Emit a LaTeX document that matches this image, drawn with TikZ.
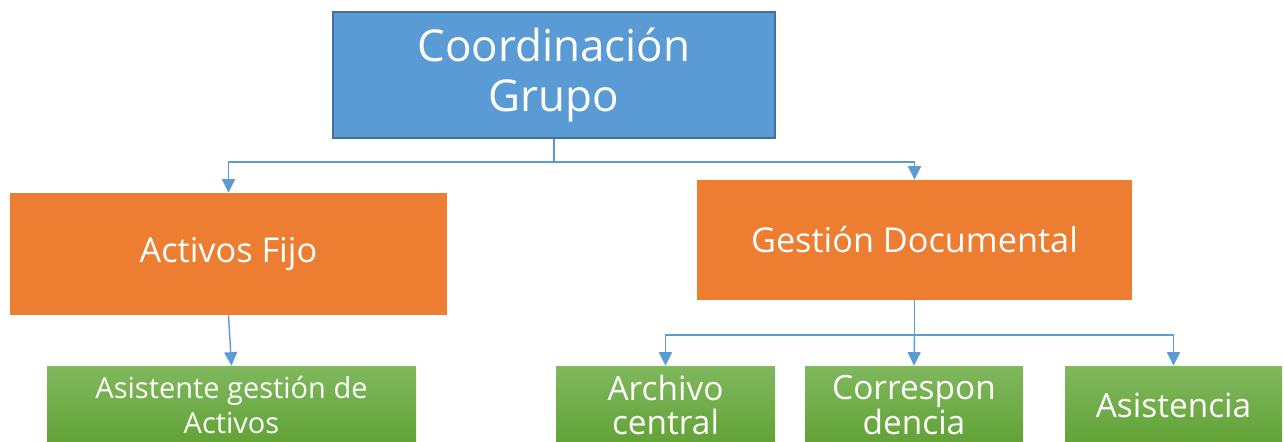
\documentclass[tikz,border=0pt]{standalone}
\usepackage{fontspec}
\setmainfont{Open Sans}
\usetikzlibrary{arrows.meta}

\definecolor{azul}{HTML}{5B9BD5}
\definecolor{azulborde}{HTML}{41719C}
\definecolor{naranja}{HTML}{ED7D31}
\definecolor{verdearriba}{HTML}{80B85E}
\definecolor{verdeabajo}{HTML}{62A236}

\tikzset{
    jefe/.style={fill=azul, draw=azulborde, line width=1pt, text=white, align=center,
        font=\fontsize{25}{28}\selectfont},
    area/.style={fill=naranja, text=white, align=center, font=\fontsize{19.5}{22}\selectfont},
    cargo/.style={top color=verdearriba, bottom color=verdeabajo, text=white, align=center,
        font=\fontsize{19}{19.5}\selectfont},
    enlace/.style={azul, line width=0.8pt, -{Triangle[length=0.27cm,width=0.26cm]}}
}

\begin{document}
\begin{tikzpicture}
    \useasboundingbox (0,0) rectangle (25.68,-8.82);

    \node[jefe, minimum width=8.84cm, minimum height=2.52cm] (coord) at (11.08,-1.5) {Coordinación\\Grupo};

    \node[area, minimum width=8.74cm, minimum height=2.44cm] (activos) at (4.57,-5.08) {Activos Fijo};
    \node[area, minimum width=8.7cm, minimum height=2.4cm] (gestion) at (18.29,-4.8) {Gestión Documental};

    \node[cargo, minimum width=7.38cm, minimum height=1.56cm, font=\fontsize{16.5}{19.5}\selectfont] (asistente) at (4.63,-8.1) {Asistente gestión de\\Activos};
    \node[cargo, minimum width=4.38cm, minimum height=1.56cm] (archivo) at (13.31,-8.1) {Archivo\\central};
    \node[cargo, minimum width=4.36cm, minimum height=1.56cm] (corresp) at (18.28,-8.1) {Correspon\\dencia};
    \node[cargo, minimum width=4.34cm, minimum height=1.56cm] (asistencia) at (23.47,-8.1) {Asistencia};

    % conectores
    \coordinate (rama) at (coord.south |- 0,-3.24);
    \draw[azul, line width=0.8pt] (coord.south) -- (rama);
    \draw[enlace] (rama) -| (activos.north);
    \draw[enlace] (rama) -| (gestion.north);
    \draw[enlace] (activos.south) -- (asistente.north);

    \coordinate (rama2) at (gestion.south |- 0,-6.7);
    \draw[azul, line width=0.8pt] (gestion.south) -- (rama2);
    \draw[enlace] (rama2) -| (archivo.north);
    \draw[enlace] (rama2) -- (corresp.north);
    \draw[enlace] (rama2) -| (asistencia.north);
\end{tikzpicture}
\end{document}
